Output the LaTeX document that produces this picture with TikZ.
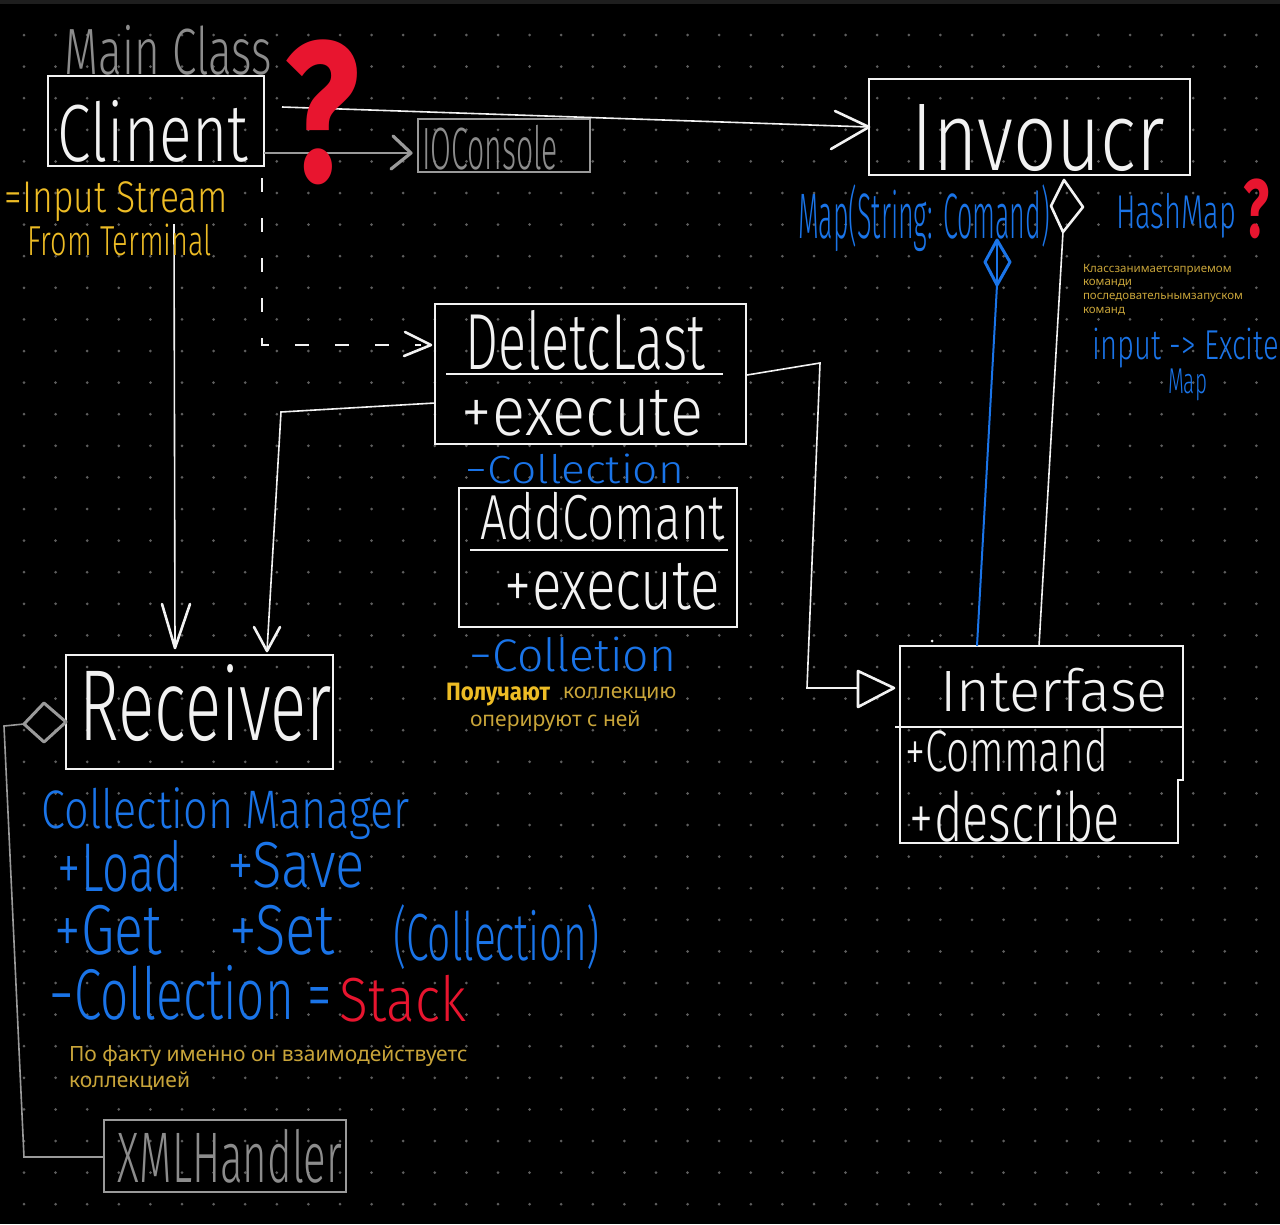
\documentclass[tikz,border=0pt]{standalone}
\usepackage{fontspec}
\usepackage{graphicx}
\setmainfont{Fira Sans}
\newfontfamily\hand{Fira Sans Light}
\newfontfamily\prt{Noto Sans}
\usetikzlibrary{calc}
\definecolor{bgc}{HTML}{000000}
\definecolor{topbar}{HTML}{1E1E1E}
\definecolor{dotc}{HTML}{5E5E5E}
\definecolor{linew}{HTML}{F2F2F2}
\definecolor{boxg}{HTML}{9A9A9A}
\definecolor{textg}{HTML}{8C8C8C}
\definecolor{bluec}{HTML}{1A74E8}
\definecolor{yelh}{HTML}{EDBC25}
\definecolor{yelp}{HTML}{C9A53A}
\definecolor{redc}{HTML}{E8152F}
\newcommand{\fitt}[3]{\resizebox*{#1pt}{#2pt}{#3}}
\begin{document}
\begin{tikzpicture}[x=1pt,y=-1pt,
  txt/.style={inner sep=0pt, outer sep=0pt},
  wbox/.style={draw=linew, line width=2pt, inner sep=0pt, outer sep=0pt},
  gbox/.style={draw=boxg, line width=2pt, inner sep=0pt, outer sep=0pt},
  wline/.style={draw=linew, line width=1.6pt},
  gline/.style={draw=boxg, line width=1.6pt},
  bline/.style={draw=bluec, line width=2pt},
  chevw/.style={draw=linew, line width=2.6pt, line cap=round, line join=round},
  chevg/.style={draw=boxg, line width=3.2pt, line cap=round, line join=round},
  hw/.style={txt, text=linew},
  hb/.style={txt, text=bluec},
  hg/.style={txt, text=textg},
  hy/.style={txt, text=yelh},
  py/.style={txt, text=yelp, anchor=base west, font=\prt\fontsize{21}{26}\selectfont},
  pys/.style={txt, text=yelp, anchor=base west, font=\prt\fontsize{11.5}{14}\selectfont}
]
\useasboundingbox (0,0) rectangle (1280,1224);
\fill[bgc] (0,0) rectangle (1280,1224);
\fill[topbar] (0,0) rectangle (1280,4);
\foreach \i in {0,...,39} \foreach \j in {0,...,37}
  \fill[dotc] ({24+31.6*\i},{35+31.6*\j}) circle (1.5pt);

% ---------- boxes ----------
\node[wbox, minimum width=216pt, minimum height=90pt] (client) at (156,121) {};
\node[gbox, minimum width=172pt, minimum height=53pt] (io) at (504,145.5) {};
\node[wbox, minimum width=321pt, minimum height=96pt] (inv) at (1029.5,127) {};
\node[wbox, minimum width=311pt, minimum height=140pt] (del) at (590.5,374) {};
\node[wbox, minimum width=278pt, minimum height=139pt] (add) at (598,557.5) {};
\node[wbox, minimum width=267pt, minimum height=114pt] (rec) at (199.5,712) {};
\node[gbox, minimum width=242pt, minimum height=72pt] (xml) at (225,1156) {};
\node[txt, minimum width=283pt, minimum height=197pt] (iface) at (1041.5,744.5) {};
\draw[draw=linew, line width=2pt] (900,646) -- (1183,646) -- (1183,780) -- (1178,780) -- (1178,843) -- (900,843) -- cycle;
\draw[draw=linew, line width=1.8pt] (895,727) -- (1183,727);
\draw[draw=linew, line width=1.8pt] (446,374) -- (723,374);
\draw[draw=linew, line width=1.8pt] (470,550) -- (728,550);
\fill[linew] (932,641) circle (1.5pt);

% ---------- connectors ----------
% Client -> IOConsole
\coordinate (ioS) at (264,153);
\coordinate (ioE) at (411,153);
\draw[gline] (ioS) -- (ioE);
\draw[chevg] ($(ioE)+(-18,-17)$) -- (ioE) -- ($(ioE)+(-20,16)$);
% Client -> Invoker
\coordinate (ivS) at (282,107);
\coordinate (ivE) at (869,127);
\draw[wline] (ivS) -- (ivE);
\draw[chevw] ($(ivE)+(-34,-16)$) -- (ivE) -- ($(ivE)+(-38,22)$);
% Client - - -> DeleteLast
\coordinate (dS) at (262,178);
\coordinate (dC) at (262,345);
\coordinate (dE) at (431,345);
\draw[wline, dash pattern=on 14pt off 26pt] (dS) -- (dC) -- ($(dE)+(-10,0)$);
\draw[chevw] ($(dE)+(-26,-13)$) -- (dE) -- ($(dE)+(-27,11)$);
% Client -> Receiver
\coordinate (rS) at (174,224);
\coordinate (rE) at (175,648);
\draw[wline] (rS) -- (rE);
\draw[chevw] ($(rE)+(-13,-44)$) -- (rE) -- ($(rE)+(15,-44)$);
% DeleteLast -> Receiver
\coordinate (r2S) at (435,403);
\coordinate (r2C) at (281,412);
\coordinate (r2E) at (267,651);
\draw[wline] (r2S) -- (r2C) -- (r2E);
\draw[chevw] ($(r2E)+(-13,-24)$) -- (r2E) -- ($(r2E)+(13,-24)$);
% DeleteLast -> Interface (realization)
\coordinate (iS) at (747,375);
\coordinate (iC1) at (820,363);
\coordinate (iC2) at (807,688);
\coordinate (iT) at (858,688);
\draw[wline] (iS) -- (iC1) -- (iC2) -- (iT);
\draw[chevw] (858,671) -- (894,688) -- (858,707) -- cycle;
% Interface -> Invoker (aggregation)
\coordinate (aS) at (1039,646);
\coordinate (aE) at (1063,232);
\draw[wline] (aS) -- (aE);
\draw[chevw] (aE) -- (1051,206) -- (1064,180) -- (1083,207) -- cycle;
% blue aggregation
\coordinate (bS) at (977,646);
\coordinate (bE) at (997,285);
\draw[bline] (bS) -- (bE);
\draw[draw=bluec, line width=3pt, line join=round] (bE) -- (985,262) -- (997,240) -- (1010,262) -- cycle;
\draw[draw=bluec, line width=2pt] (997,242) -- (997,284);
% Receiver <>- XMLHandler
\coordinate (xS) at (24,724);
\coordinate (xC1) at (4,726);
\coordinate (xC2) at (24,1157);
\coordinate (xE) at (104,1157);
\draw[gline] (xS) -- (xC1) -- (xC2) -- (xE);
\draw[chevg, line width=3pt] (xS) -- (44,703) -- (66,722) -- (44,742) -- cycle;

% ---------- texts ----------
\node[hg] (tmain) at (168.5,50) {\fitt{207}{50}{\hand Main Class}};
\node[hw] (tclient) at (153,131) {\fitt{190}{62}{\hand Clinent}};
\node[txt, text=redc] (tq) at (322.5,112.5) {\fitt{75}{145}{\bfseries ?}};
\node[hg] (tio) at (490,147.5) {\fitt{136}{45}{\hand IOConsole}};
\node[hw] (tinv) at (1038.5,138.5) {\fitt{253}{67}{\hand Invoucr}};
\node[hy] (tin1) at (116.5,202) {\fitt{223}{40}{\hand =Input Stream}};
\node[hy] (tin2) at (120,240) {\fitt{184}{32}{\hand From Terminal}};
\node[hw] (tdel) at (585.5,340) {\fitt{239}{60}{\hand DeletcLast}};
\node[hw] (tex1) at (582.5,413) {\fitt{241}{46}{\hand +execute}};
\node[hb] (tcol1) at (575,469) {\fitt{218}{30}{\hand −Collection}};
\node[hw] (tadd) at (602.5,516) {\fitt{245}{48}{\hand AddComant}};
\node[hw] (tex2) at (612.5,586.5) {\fitt{215}{47}{\hand +execute}};
\node[hb] (tcol2) at (573,654.5) {\fitt{206}{35}{\hand −Colletion}};
\node[hy] (tpol) at (498,694.5) {\fitt{104}{23}{\bfseries Получают}};
\node[py] (tkol) at (563,698) {коллекцию};
\node[py] (toper) at (470,726) {оперируют с ней};
\node[hw] (trec) at (206,703.5) {\fitt{252}{77}{\hand Receiver}};
\node[hb] (tcm) at (226,814) {\fitt{368}{52}{\hand Collection Manager}};
\node[hb] (tload) at (120,866) {\fitt{124}{52}{\hand +Load}};
\node[hb] (tsave) at (296.5,865) {\fitt{137}{46}{\hand +Save}};
\node[hb] (tget) at (108.5,930) {\fitt{107}{50}{\hand +Get}};
\node[hb] (tset) at (282.5,930) {\fitt{105}{50}{\hand +Set}};
\node[hb] (tcoll) at (496.5,937.5) {\fitt{207}{65}{\hand (Collection)}};
\node[hb] (tcol3) at (191,992.5) {\fitt{282}{55}{\hand −Collection =}};
\node[txt, text=redc] (tstack) at (403,998.5) {\fitt{126}{47}{\hand Stack}};
\node[py] (tfakt) at (69,1061) {По факту именно он взаимодействуетс};
\node[py] (tkol2) at (69,1087) {коллекцией};
\node[hg] (txml) at (230,1156) {\fitt{224}{54}{\hand XMLHandler}};
\node[hb] (tmap) at (924,218.5) {\fitt{252}{67}{\hand Map(String: Comand)}};
\node[hb] (thash) at (1176,215.5) {\fitt{120}{45}{\hand HashMap}};
\node[txt, text=redc] (tq2) at (1256,209) {\fitt{26}{60}{\bfseries ?}};
\node[pys] (ts1) at (1083,272) {Классзанимаетсяприемом};
\node[pys] (ts2) at (1083,285) {команди};
\node[pys] (ts3) at (1083,299) {последовательнымзапуском};
\node[pys] (ts4) at (1083,313) {команд};
\node[hb] (tinput) at (1186,348) {\fitt{186}{40}{\hand input -> Excite}};
\node[hb] (tmap2) at (1187.5,385) {\fitt{39}{32}{\hand Map}};
\node[hw] (tif) at (1054,690) {\fitt{228}{44}{\hand Interfase}};
\node[hw] (tcmd) at (1006.5,750) {\fitt{203}{44}{\hand +Command}};
\node[hw] (tdesc) at (1015,816) {\fitt{210}{52}{\hand +describe}};
\end{tikzpicture}
\end{document}
